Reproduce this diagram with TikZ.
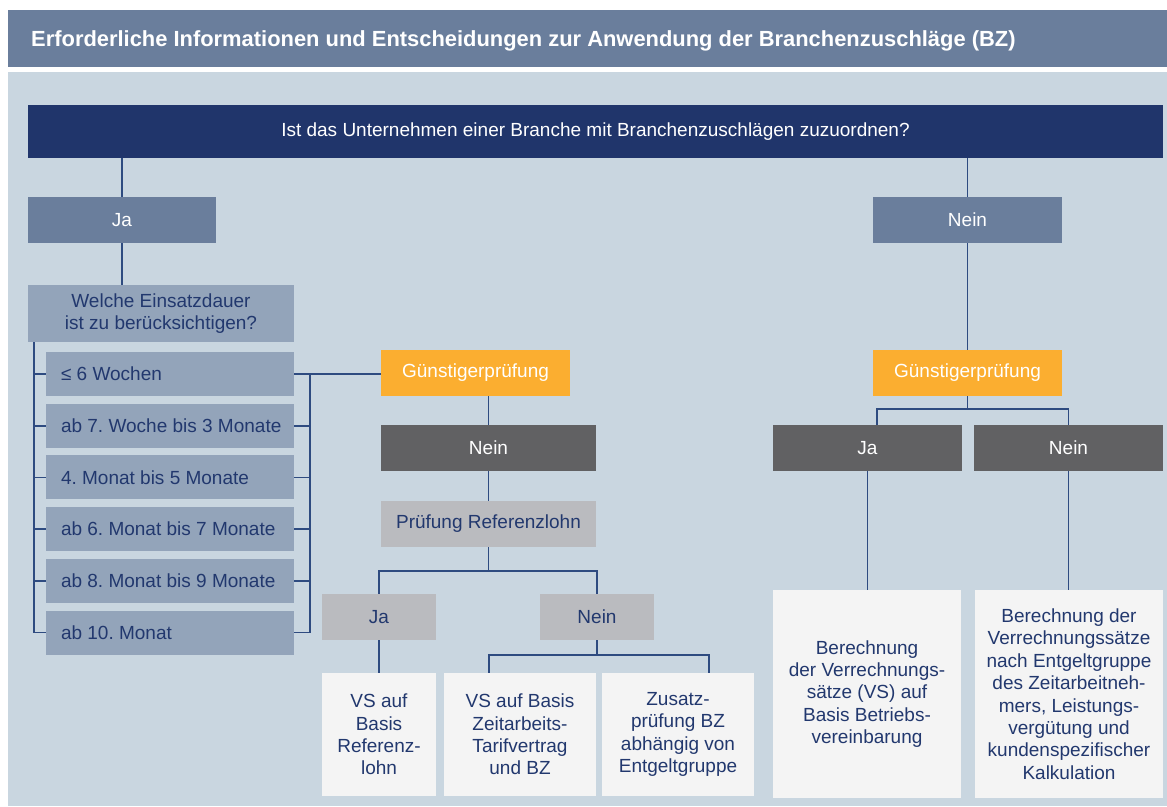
\documentclass[tikz,border=0pt]{standalone}
\usepackage{fontspec}
\setmainfont{Liberation Sans}
\frenchspacing
\definecolor{titlec}{HTML}{6A7E9C}
\definecolor{bgc}{HTML}{C9D6E0}
\definecolor{navyc}{HTML}{20356B}
\definecolor{itemc}{HTML}{93A4BA}
\definecolor{orangec}{HTML}{FBAE30}
\definecolor{darkc}{HTML}{616163}
\definecolor{grayc}{HTML}{BABBBF}
\definecolor{whitec}{HTML}{F4F4F4}
\definecolor{txtc}{HTML}{22386E}
\definecolor{linec}{HTML}{2E4B80}
\tikzset{
  box/.style={rectangle, inner sep=0pt, font=\fontsize{19}{22.4}\selectfont, align=center},
  slatebox/.style={box, fill=titlec, text=white},
  itembox/.style={box, fill=itemc, text=txtc},
  listbox/.style={rectangle, fill=itemc, text=txtc, font=\fontsize{19}{22.4}\selectfont, minimum width=248pt, minimum height=44pt, inner ysep=0pt, inner xsep=15pt},
  orangebox/.style={box, fill=orangec, text=white},
  darkbox/.style={box, fill=darkc, text=white},
  graybox/.style={box, fill=grayc, text=txtc},
  resbox/.style={box, fill=whitec, text=txtc},
  conn/.style={draw=linec, line width=1.6pt}
}
\newcommand{\itemtext}[1]{\makebox[218pt][l]{\rule[-3.4pt]{0pt}{20.4pt}#1}}
\begin{document}
\begin{tikzpicture}[x=1pt, y=-1pt]
\useasboundingbox (0,0) rectangle (1167,806);
\fill[white] (0,0) rectangle (1167,806);
\fill[titlec] (8,10) rectangle (1167,67);
\fill[bgc] (8,72) rectangle (1167,806);
\node[anchor=base west, inner sep=0pt, text=white, font=\fontsize{21.9}{24}\selectfont\bfseries] (title) at (31,46) {Erforderliche Informationen und Entscheidungen zur Anwendung der Branchenzuschläge (BZ)};

% top question
\node[box, fill=navyc, text=white, minimum width=1135pt, minimum height=53pt] (q) at (595.5,131.5) {Ist das Unternehmen einer Branche mit Branchenzuschlägen zuzuordnen?};

% level 1
\node[slatebox, minimum width=188pt, minimum height=46pt] (ja1) at (122,220) {Ja};
\node[slatebox, minimum width=189pt, minimum height=46pt] (nein1) at (967.5,220) {Nein};
\draw[conn] (ja1.north) -- (ja1.north |- q.south);
\draw[conn] (nein1.north) -- (nein1.north |- q.south);

% left: duration
\node[itembox, minimum width=266pt, minimum height=57pt] (welche) at (161,313.5) {Welche Einsatzdauer\\ist zu berücksichtigen?};
\draw[conn] (ja1.south) -- (ja1.south |- welche.north);

\node[listbox] (i1) at (170,374) {\itemtext{≤ 6 Wochen}};
\node[listbox] (i2) at (170,425.7) {\itemtext{ab 7. Woche bis 3 Monate}};
\node[listbox] (i3) at (170,477.4) {\itemtext{4. Monat bis 5 Monate}};
\node[listbox] (i4) at (170,529.1) {\itemtext{ab 6. Monat bis 7 Monate}};
\node[listbox] (i5) at (170,580.8) {\itemtext{ab 8. Monat bis 9 Monate}};
\node[listbox] (i6) at (170,632.5) {\itemtext{ab 10. Monat}};

\coordinate (bl) at (34,342);
\coordinate (br) at (310,374);
\draw[conn] (bl) |- (i6.west);
\foreach \i in {1,...,5} { \draw[conn] (i\i.west) -- (i\i.west -| bl); }
\draw[conn] (i6.east) -| (br);
\foreach \i in {2,...,5} { \draw[conn] (i\i.east) -- (i\i.east -| br); }

% left Guenstigerpruefung branch
\node[orangebox, minimum width=189pt, minimum height=46pt] (g1) at (475.5,373) {Günstigerprüfung};
\draw[conn] (i1.east) -- (i1.east -| g1.west);
\node[darkbox, minimum width=215pt, minimum height=46pt] (n2) at (488.5,448) {Nein};
\draw[conn] (n2.north) -- (n2.north |- g1.south);
\node[graybox, minimum width=215pt, minimum height=46pt] (pr) at (488.5,524) {Prüfung Referenzlohn};
\draw[conn] (n2.south) -- (pr.north);

\node[graybox, minimum width=114pt, minimum height=46pt] (ja3) at (379,617) {Ja};
\node[graybox, minimum width=114pt, minimum height=46pt] (nein3) at (597,617) {Nein};
\coordinate (bp) at (488.5,571);
\draw[conn] (pr.south) -- (bp);
\draw[conn] (ja3.north) |- (bp) -| (nein3.north);

\node[resbox, minimum width=114pt, minimum height=123pt] (b1) at (379,734.5) {VS auf\\Basis\\Referenz-\\lohn};
\node[resbox, minimum width=152pt, minimum height=123pt] (b2) at (520,734.5) {VS auf Basis\\Zeitarbeits-\\Tarifvertrag\\und BZ};
\node[resbox, minimum width=152pt, minimum height=123pt] (b3) at (678,734.5) {Zusatz-\\prüfung BZ\\abhängig von\\Entgeltgruppe};
\draw[conn] (ja3.south) -- (b1.north -| ja3.south);
\coordinate (nb) at (597,655);
\coordinate (nbl) at (489,655);
\coordinate (nbr) at (709,655);
\draw[conn] (nein3.south) -- (nb);
\draw[conn] (nbl |- b2.north) -- (nbl) -- (nbr) -- (nbr |- b3.north);

% right branch
\node[orangebox, minimum width=189pt, minimum height=46pt] (g2) at (967.5,373) {Günstigerprüfung};
\draw[conn] (nein1.south) -- (g2.north);
\node[darkbox, minimum width=189pt, minimum height=46pt] (ja4) at (867.5,448) {Ja};
\node[darkbox, minimum width=189pt, minimum height=46pt] (nein4) at (1068.5,448) {Nein};
\coordinate (rb) at (967.5,409);
\coordinate (rbl) at (877,409);
\draw[conn] (g2.south) -- (rb);
\draw[conn] (rbl |- ja4.north) -- (rbl) -- (rb) -| (nein4.north);

\node[resbox, minimum width=188pt, minimum height=208pt] (b4) at (867,694) {Berechnung\\der Verrechnungs-\\sätze (VS) auf\\Basis Betriebs-\\vereinbarung};
\node[resbox, minimum width=188pt, minimum height=208pt] (b5) at (1069,694) {Berechnung der\\Verrechnungssätze\\nach Entgeltgruppe\\des Zeitarbeitneh-\\mers, Leistungs-\\vergütung und\\kundenspezifischer\\Kalkulation};
\draw[conn] (ja4.south) -- (ja4.south |- b4.north);
\draw[conn] (nein4.south) -- (nein4.south |- b5.north);
\end{tikzpicture}
\end{document}
